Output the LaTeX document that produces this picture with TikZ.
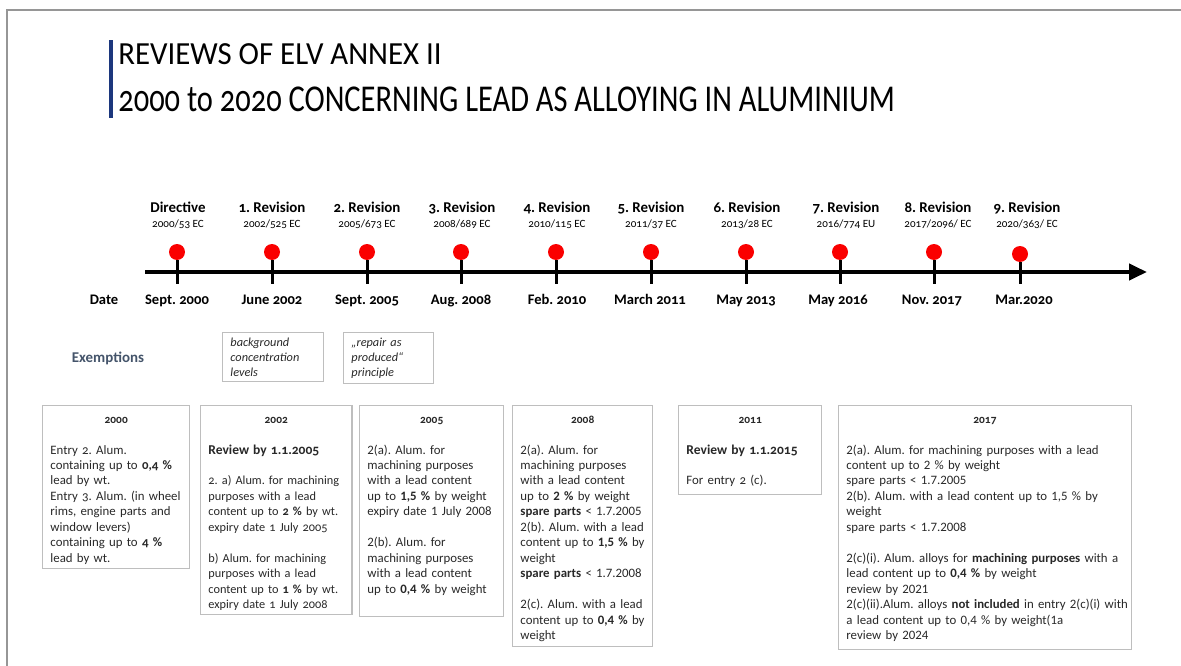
\documentclass[tikz,border=0pt]{standalone}
\usepackage{fontspec}
\setmainfont{Carlito}
\newfontfamily\oldfig[Numbers=OldStyle]{Carlito}
\usetikzlibrary{arrows.meta}
\definecolor{framegray}{RGB}{150,150,150}
\definecolor{barblue}{RGB}{28,55,125}
\definecolor{dotred}{RGB}{250,0,0}
\definecolor{exgray}{RGB}{68,84,106}
\definecolor{boxgray}{RGB}{190,190,190}
\definecolor{bodytext}{RGB}{40,40,40}
\frenchspacing
\newcommand\codefont{\mdseries\fontsize{6.3}{8.5}\selectfont}
\newcommand\yearfont{\oldfig\bfseries\fontsize{6.5}{8.8}\selectfont}
\newcommand\keeplines{\hyphenpenalty=10000 \rightskip=0pt minus 20pt\relax}

\begin{document}
\begin{tikzpicture}[x=0.02cm,y=-0.02cm,
  rev/.style={align=center,inner sep=0pt,font=\oldfig\fontsize{8.5}{8.5}\selectfont\bfseries},
  dot/.style={circle,fill=dotred,inner sep=0pt,minimum size=0.32cm},
  date/.style={anchor=north,inner sep=0pt,text height=6pt,text depth=2pt,font=\oldfig\fontsize{8.3}{10}\selectfont\bfseries},
  tick/.style={line width=0.06cm,shorten >=0.2cm},
  axis/.style={line width=0.08cm,-{Triangle[length=0.36cm,width=0.32cm]}},
  exbox/.style={draw=boxgray,line width=0.6pt,anchor=north west,inner xsep=4.5pt,inner ysep=3pt,align=left,text=bodytext,font=\oldfig\itshape\fontsize{7}{8.5}\selectfont},
  box/.style={draw=boxgray,line width=0.6pt,anchor=north west,inner xsep=4.5pt,inner ysep=4pt,text height=6pt,text=bodytext,font=\fontsize{7.3}{8.8}\selectfont}]
\useasboundingbox (0,0) rectangle (1181,666);
\draw[framegray,line width=0.04cm] (7,666) -- (7,10) -- (1181,10);
\draw[barblue,line width=0.08cm] (111,40) -- (111,118);
\node[anchor=base west,inner sep=0pt] (T1) at (118,64) {\resizebox{184pt}{11.9pt}{REVIEWS OF ELV ANNEX II}};
\node[anchor=base west,inner sep=0pt] (T2) at (118,111) {\resizebox{442pt}{14pt}{\oldfig 2000 to 2020 CONCERNING LEAD AS ALLOYING IN ALUMINIUM}};

\node[rev] (R0) at (178,215) {Directive\\{\codefont 2000/53 EC}};
\node[rev] (R1) at (272,215) {1. Revision\\{\codefont 2002/525 EC}};
\node[rev] (R2) at (367,215) {2. Revision\\{\codefont 2005/673 EC}};
\node[rev] (R3) at (462,215) {3. Revision\\{\codefont 2008/689 EC}};
\node[rev] (R4) at (557,215) {4. Revision\\{\codefont 2010/115 EC}};
\node[rev] (R5) at (651,215) {5. Revision\\{\codefont 2011/37 EC}};
\node[rev] (R6) at (747,215) {6. Revision\\{\codefont 2013/28 EC}};
\node[rev] (R7) at (846,215) {7. Revision\\{\codefont 2016/774 EU}};
\node[rev] (R8) at (938,215) {8. Revision\\{\codefont 2017/2096/ EC}};
\node[rev] (R9) at (1027,215) {9. Revision\\{\codefont 2020/363/ EC}};

\coordinate (A0) at (145,272);
\coordinate (A1) at (1147,272);
\draw[axis] (A0) -- (A1);

\node[dot] (C0) at (177,252) {};
\node[dot] (C1) at (272,252) {};
\node[dot] (C2) at (367,252) {};
\node[dot] (C3) at (461,252) {};
\node[dot] (C4) at (556,252) {};
\node[dot] (C5) at (651,252) {};
\node[dot] (C6) at (746,252) {};
\node[dot] (C7) at (840,252) {};
\node[dot] (C8) at (934,252) {};
\node[dot] (C9) at (1020,254) {};

\node[date] (D) at (104,294) {Date};
\node[date] (D0) at (177,294) {Sept. 2000};
\node[date] (D1) at (272,294) {June 2002};
\node[date] (D2) at (367,294) {Sept. 2005};
\node[date] (D3) at (461,294) {Aug. 2008};
\node[date] (D4) at (557,294) {Feb. 2010};
\node[date] (D5) at (650,294) {March 2011};
\node[date] (D6) at (746,294) {May 2013};
\node[date] (D7) at (838,294) {May 2016};
\node[date] (D8) at (932,294) {Nov. 2017};
\node[date] (D9) at (1024,294) {Mar.2020};

\path[tick] (C0) edge (C0 |- D0.north) (C1) edge (C1 |- D1.north)
  (C2) edge (C2 |- D2.north) (C3) edge (C3 |- D3.north)
  (C4) edge (C4 |- D4.north) (C5) edge (C5 |- D5.north)
  (C6) edge (C6 |- D6.north) (C7) edge (C7 |- D7.north)
  (C8) edge (C8 |- D8.north) (C9) edge (C9 |- D9.north);

\node[text=exgray,font=\fontsize{8.5}{10}\selectfont\bfseries] (EX) at (108,358) {Exemptions};
\node[exbox,text width=1.70cm] (E1) at (222,332) {background\\concentration\\levels};
\node[exbox,text width=1.48cm] (E2) at (343,332) {„repair as\\produced“\\principle};

\node[box,text width=74.9pt,text depth=79pt] (B2000) at (42,405) {\oldfig\keeplines{\centering\yearfont 2000\par}\vspace{8.8pt}%
Entry 2. Alum.\\
containing up to \textbf{0,4 \%}\\
lead by wt.\\
Entry 3. Alum. (in wheel\\
rims, engine parts and\\
window levers)\\
containing up to \textbf{4 \%}\\
lead by wt.};
\node[box,text width=77.2pt,text depth=105pt,font=\fontsize{7}{8.8}\selectfont] (B2002) at (200,405) {\oldfig\keeplines{\centering\yearfont 2002\par}\vspace{8.8pt}%
{\fontsize{7.7}{8.8}\selectfont\textbf{Review by 1.1.2005}}\\[8.8pt]
2. a) Alum. for machining\\
purposes with a lead\\
content up to \textbf{2 \%} by wt.\\
expiry date 1 July 2005\\[8.8pt]
b) Alum. for machining\\
purposes with a lead\\
content up to \textbf{1 \%} by wt.\\
expiry date 1 July 2008};
\node[box,text width=73.2pt,text depth=106.2pt] (B2005) at (359,405) {\keeplines{\centering\yearfont 2005\par}\vspace{8.8pt}%
2(a). Alum. for\\
machining purposes\\
with a lead content\\
up to \textbf{1,5 \%} by weight\\
expiry date 1 July 2008\\[8.8pt]
2(b). Alum. for\\
machining purposes\\
with a lead content\\
up to \textbf{0,4 \%} by weight};
\node[box,text width=70.9pt,text depth=123.2pt] (B2008) at (512,405) {\keeplines{\centering\yearfont 2008\par}\vspace{8.8pt}%
2(a). Alum. for\\
machining purposes\\
with a lead content\\
up to \textbf{2 \%} by weight\\
\textbf{spare parts} < 1.7.2005\\
2(b). Alum. with a lead\\
content up to \textbf{1,5 \%} by\\
weight\\
\textbf{spare parts} < 1.7.2008\\[8.8pt]
2(c). Alum. with a lead\\
content up to \textbf{0,4 \%} by\\
weight};
\node[box,text width=72.6pt,text depth=36.5pt] (B2011) at (678,405) {\oldfig\keeplines{\centering\yearfont 2011\par}\vspace{8.8pt}%
{\fontsize{7.7}{8.8}\selectfont\textbf{Review by 1.1.2015}}\\[8.8pt]
For entry 2 (c).};
\node[box,text width=157.7pt,text depth=124.9pt] (B2017) at (838,405) {\keeplines{\centering\yearfont 2017\par}\vspace{8.8pt}%
2(a). Alum. for machining purposes with a lead\\
content up to 2 \% by weight\\
spare parts < 1.7.2005\\
2(b). Alum. with a lead content up to 1,5 \% by\\
weight\\
spare parts < 1.7.2008\\[8.8pt]
2(c)(i). Alum. alloys for \textbf{machining purposes} with a\\
lead content up to \textbf{0,4 \%} by weight\\
review by 2021\\
2(c)(ii).Alum. alloys \textbf{not included} in entry 2(c)(i) with\\
a lead content up to 0,4 \% by weight(1a\\
review by 2024};
\end{tikzpicture}
\end{document}
